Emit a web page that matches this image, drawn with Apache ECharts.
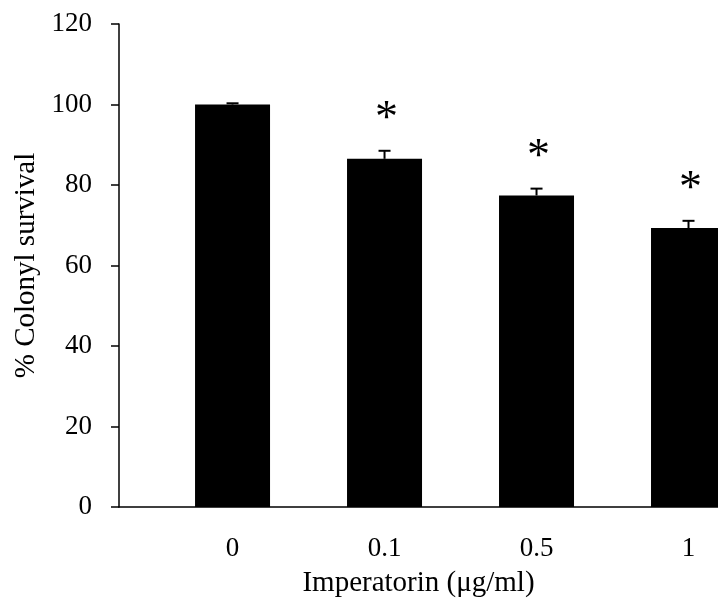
<!DOCTYPE html>
<html>
<head>
<meta charset="utf-8">
<script src="https://cdn.jsdelivr.net/npm/echarts@6/dist/echarts.min.js"></script>
<style>
  html, body { margin: 0; padding: 0; background: #fff; }
  #chart { width: 718px; height: 603px; }
</style>
</head>
<body>
<div id="chart"></div>
<script>
// Colony survival after imperatorin treatment
const doses = ['0', '0.1', '0.5', '1'];
const survival = [100, 86.5, 77.4, 69.3];
const sem = [0.3, 2.0, 1.7, 1.8];
const significance = ['', '*', '*', '*'];
const yTicks = { min: 0, max: 120, step: 20 };

const serif = 'Liberation Serif, Times New Roman, serif';
const positions = doses.map((d, i) => i);

const chart = echarts.init(document.getElementById('chart'));
chart.setOption({
  animation: false,
  backgroundColor: '#fff',
  grid: { left: 119, right: 0, top: 24, bottom: 95 },
  xAxis: {
    type: 'value',
    min: -0.747,
    max: 3.194,
    name: 'Imperatorin (μg/ml)',
    nameLocation: 'middle',
    nameGap: 62,
    nameTextStyle: { fontFamily: serif, fontSize: 29, color: '#000' },
    axisLine: { show: true, onZero: false, lineStyle: { color: '#000', width: 1.5 } },
    axisTick: { show: false },
    splitLine: { show: false },
    axisLabel: {
      customValues: positions,
      formatter: v => doses[Math.round(v)],
      fontFamily: serif, fontSize: 27, color: '#000', margin: 28
    }
  },
  yAxis: {
    type: 'value',
    min: yTicks.min,
    max: yTicks.max,
    interval: yTicks.step,
    name: '% Colonyl survival',
    nameLocation: 'middle',
    nameGap: 77,
    nameRotate: 90,
    nameTextStyle: { fontFamily: serif, fontSize: 29, color: '#000' },
    axisLine: { show: true, onZero: false, lineStyle: { color: '#000', width: 1.5 } },
    axisTick: { show: true, inside: false, length: 8, lineStyle: { color: '#000', width: 1.5 } },
    splitLine: { show: false },
    axisLabel: { fontFamily: serif, fontSize: 27, color: '#000', margin: 27 }
  },
  series: [
    {
      type: 'bar',
      barWidth: 75,
      data: survival.map((v, i) => [positions[i], v]),
      itemStyle: { color: '#000' },
      z: 2
    },
    {
      // upper error bars: from bar top to mean + SEM
      type: 'custom',
      data: survival.map((v, i) => [positions[i], v + sem[i]]),
      renderItem: (params, api) => {
        const i = params.dataIndex;
        const top = api.coord([api.value(0), api.value(1)]);
        const base = api.coord([api.value(0), survival[i]]);
        const half = 6;
        return {
          type: 'group',
          children: [
            { type: 'line', shape: { x1: base[0], y1: base[1], x2: top[0], y2: top[1] },
              style: { stroke: '#000', lineWidth: 2 } },
            { type: 'line', shape: { x1: top[0] - half, y1: top[1], x2: top[0] + half, y2: top[1] },
              style: { stroke: '#000', lineWidth: 2 } }
          ]
        };
      },
      z: 3
    },
    {
      // significance marks above error bars
      type: 'custom',
      data: survival.map((v, i) => [positions[i], v + sem[i]]),
      renderItem: (params, api) => {
        const mark = significance[params.dataIndex];
        if (!mark) return null;
        const p = api.coord([api.value(0), api.value(1)]);
        return {
          type: 'text',
          x: p[0] + 2,
          y: p[1] - 31,
          style: {
            text: mark,
            fontFamily: serif,
            fontSize: 46,
            fill: '#000',
            align: 'center',
            verticalAlign: 'middle'
          }
        };
      },
      z: 4
    }
  ]
});
</script>
</body>
</html>
